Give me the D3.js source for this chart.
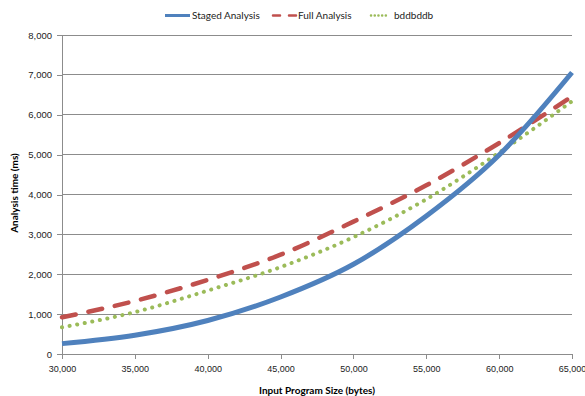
<!DOCTYPE html>
<html><head><meta charset="utf-8">
<script src="https://cdn.jsdelivr.net/npm/d3@7"></script>
<style>body{margin:0;background:#fff;} svg{display:block;font-family:Lato,"Open Sans",sans-serif;}</style>
</head><body>
<svg id="c" width="585" height="396"></svg>
<script>
const sizes = [30000, 35000, 40000, 45000, 50000, 55000, 60000, 65000];
const staged = [260, 470, 840, 1430, 2250, 3460, 4990, 7060];
const full = [920, 1330, 1860, 2490, 3320, 4230, 5290, 6460];
const bddbddb = [670, 1050, 1590, 2180, 2930, 3880, 5050, 6340];
const yTicks = [0, 1000, 2000, 3000, 4000, 5000, 6000, 7000, 8000];
const xTicks = [30000, 35000, 40000, 45000, 50000, 55000, 60000, 65000];
const seriesNames = ["Staged Analysis", "Full Analysis", "bddbddb"];
const colors = ["#4F81BD", "#C0504D", "#9BBB59"];

const svg = d3.select("#c");
const m = {l: 62, r: 13, t: 35, b: 42};
const W = 585, H = 396;
const x = d3.scaleLinear().domain([30000, 65000]).range([m.l, W - m.r]);
const y = d3.scaleLinear().domain([0, 8000]).range([H - m.b, m.t]);
const fmt = d3.format(",");

// gridlines
svg.append("g").selectAll("line").data(yTicks.filter(d => d > 0)).join("line")
  .attr("x1", m.l).attr("x2", W - m.r)
  .attr("y1", d => y(d)).attr("y2", d => y(d))
  .attr("stroke", "#8c8c8c").attr("stroke-width", 1).attr("shape-rendering", "crispEdges");

// axes
const ya = svg.append("g").attr("transform", `translate(${m.l},0)`)
  .call(d3.axisLeft(y).tickValues(yTicks).tickFormat(fmt).tickSize(5).tickPadding(5));
const xa = svg.append("g").attr("transform", `translate(0,${H - m.b})`)
  .call(d3.axisBottom(x).tickValues(xTicks).tickFormat(fmt).tickSize(5).tickPadding(7));
[ya, xa].forEach(a => {
  a.selectAll("path,line").attr("stroke", "#8c8c8c").attr("shape-rendering", "crispEdges");
  a.selectAll("text").attr("fill", "#222").style("font-size", "9.5px");
});
xa.selectAll("text").style("font-size", "9px");
ya.select(".domain").attr("d", `M-5,${y(8000)}H0V${y(0)}`);
xa.select(".domain").attr("d", `M${m.l},5V0H${W - m.r}V5`);

// lines
const data = [staged, full, bddbddb];
const dashes = [null, "14,13", "0.1,7.6"];
const widths = [5, 4.5, 4];
const line = d3.line().x((d, i) => x(sizes[i])).y(d => y(d)).curve(d3.curveMonotoneX);
const order = [2, 1, 0];
order.forEach(k => {
  svg.append("path").datum(data[k]).attr("d", line)
    .attr("fill", "none").attr("stroke", colors[k]).attr("stroke-width", widths[k])
    .attr("stroke-linecap", k === 0 ? "butt" : "round")
    .attr("stroke-dasharray", dashes[k]);
});

// legend
const leg = [{x0: 165, x1: 190, tx: 192}, {x0: 273, x1: 296, tx: 298}, {x0: 371, x1: 386, tx: 394}];
leg.forEach((p, k) => {
  svg.append("line").attr("x1", p.x0).attr("x2", p.x1).attr("y1", 15.5).attr("y2", 15.5)
    .attr("stroke", colors[k]).attr("stroke-width", k === 0 ? 3 : 2.5)
    .attr("stroke-dasharray", k === 1 ? "7,9" : (k === 2 ? "0.1,3.6" : null))
    .attr("stroke-linecap", k === 0 ? "butt" : "round");
  svg.append("text").attr("x", p.tx).attr("y", 19).text(seriesNames[k])
    .style("font-size", "10px").attr("fill", "#222");
});

// axis titles
svg.append("text").attr("x", 317).attr("y", 394).attr("text-anchor", "middle")
  .style("font-size", "10px").style("font-weight", "bold").text("Input Program Size (bytes)");
svg.append("text").attr("transform", "translate(18,193) rotate(-90)").attr("text-anchor", "middle")
  .style("font-size", "10px").style("font-weight", "bold").text("Analysis time (ms)");
</script>
</body></html>
